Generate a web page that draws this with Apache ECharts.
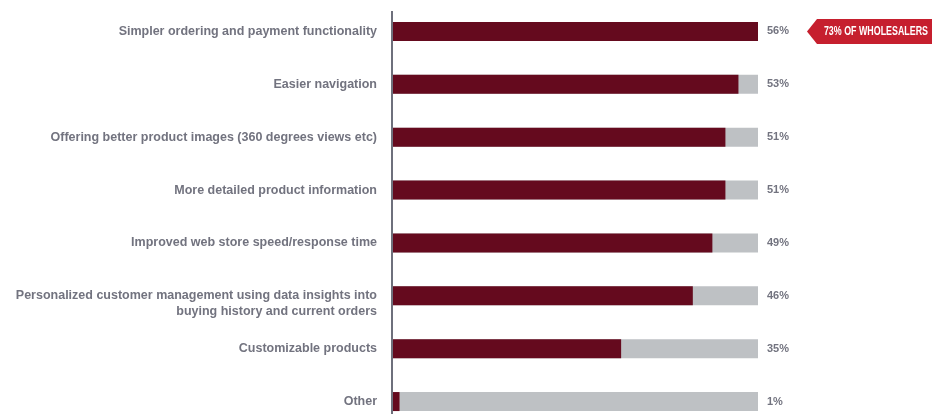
<!DOCTYPE html>
<html>
<head>
<meta charset="utf-8">
<script src="https://cdn.jsdelivr.net/npm/echarts@6/dist/echarts.min.js"></script>
<style>
  html, body { margin: 0; padding: 0; background: #ffffff; }
  #chart { width: 932px; height: 414px; }
</style>
</head>
<body>
<div id="chart"></div>
<script>
// Survey answers, top to bottom
const categories = [
  'Simpler ordering and payment functionality',
  'Easier navigation',
  'Offering better product images (360 degrees views etc)',
  'More detailed product information',
  'Improved web store speed/response time',
  'Personalized customer management using data insights into\nbuying history and current orders',
  'Customizable products',
  'Other'
];
const shares = [56, 53, 51, 51, 49, 46, 35, 1];
const scaleMax = 56;
const calloutText = '73% OF WHOLESALERS';

const FONT = '"Liberation Sans", Arial, sans-serif';
const TEXT_GREY = '#72737f';
const BAR_RED = '#650a1e';
const TRACK_GREY = '#bec1c4';
const TAG_RED = '#c61f2e';

const chart = echarts.init(document.getElementById('chart'), null, { renderer: 'canvas' });

chart.setOption({
  animation: false,
  backgroundColor: '#ffffff',
  // the last row runs slightly past the bottom edge
  grid: {
    left: 393, right: 174, top: 5, height: 423,
    containLabel: false, outerBoundsMode: 'none'
  },
  xAxis: {
    type: 'value', min: 0, max: scaleMax,
    show: false
  },
  yAxis: [{
    type: 'category',
    inverse: true,
    data: categories,
    axisLine: { show: false },
    axisTick: { show: false },
    axisLabel: {
      margin: 16,
      color: TEXT_GREY,
      fontFamily: FONT,
      fontWeight: 'bold',
      fontSize: 12.5,
      lineHeight: 16,
      align: 'right',
      // multi-line labels keep their first line level with the bar
      formatter: v => v.indexOf('\n') >= 0 ? '\n' + v : v
    }
  }, {
    type: 'category',
    inverse: true,
    position: 'right',
    data: shares.map(v => v + '%'),
    axisLine: { show: false },
    axisTick: { show: false },
    axisLabel: {
      margin: 9,
      color: TEXT_GREY,
      fontFamily: FONT,
      fontWeight: 'bold',
      fontSize: 11,
      align: 'left'
    }
  }],
  series: [{
    type: 'bar',
    data: shares,
    barWidth: 19,
    itemStyle: { color: BAR_RED },
    showBackground: true,
    backgroundStyle: { color: TRACK_GREY },
    silent: true
  }]
});

// Vertical baseline and the highlight tag beside the first row
const y0 = chart.convertToPixel({ yAxisIndex: 0 }, categories[0]);
const xEnd = chart.convertToPixel({ xAxisIndex: 0 }, scaleMax);
const tagLeft = xEnd + 49;
chart.setOption({
  graphic: [{
    type: 'line',
    shape: { x1: 392, y1: 11, x2: 392, y2: 414 },
    style: { stroke: '#6e707c', lineWidth: 2 },
    silent: true
  }, {
    type: 'polygon',
    shape: {
      points: [
        [tagLeft, y0],
        [tagLeft + 10, y0 - 12.5],
        [932, y0 - 12.5],
        [932, y0 + 12.5],
        [tagLeft + 10, y0 + 12.5]
      ]
    },
    style: { fill: TAG_RED },
    silent: true
  }, {
    type: 'text',
    x: 928,
    y: y0 + 0.5,
    scaleX: 0.74,
    style: {
      text: calloutText,
      fill: '#ffffff',
      font: 'bold 12px ' + FONT,
      textAlign: 'right',
      textVerticalAlign: 'middle'
    },
    silent: true
  }]
});
</script>
</body>
</html>
